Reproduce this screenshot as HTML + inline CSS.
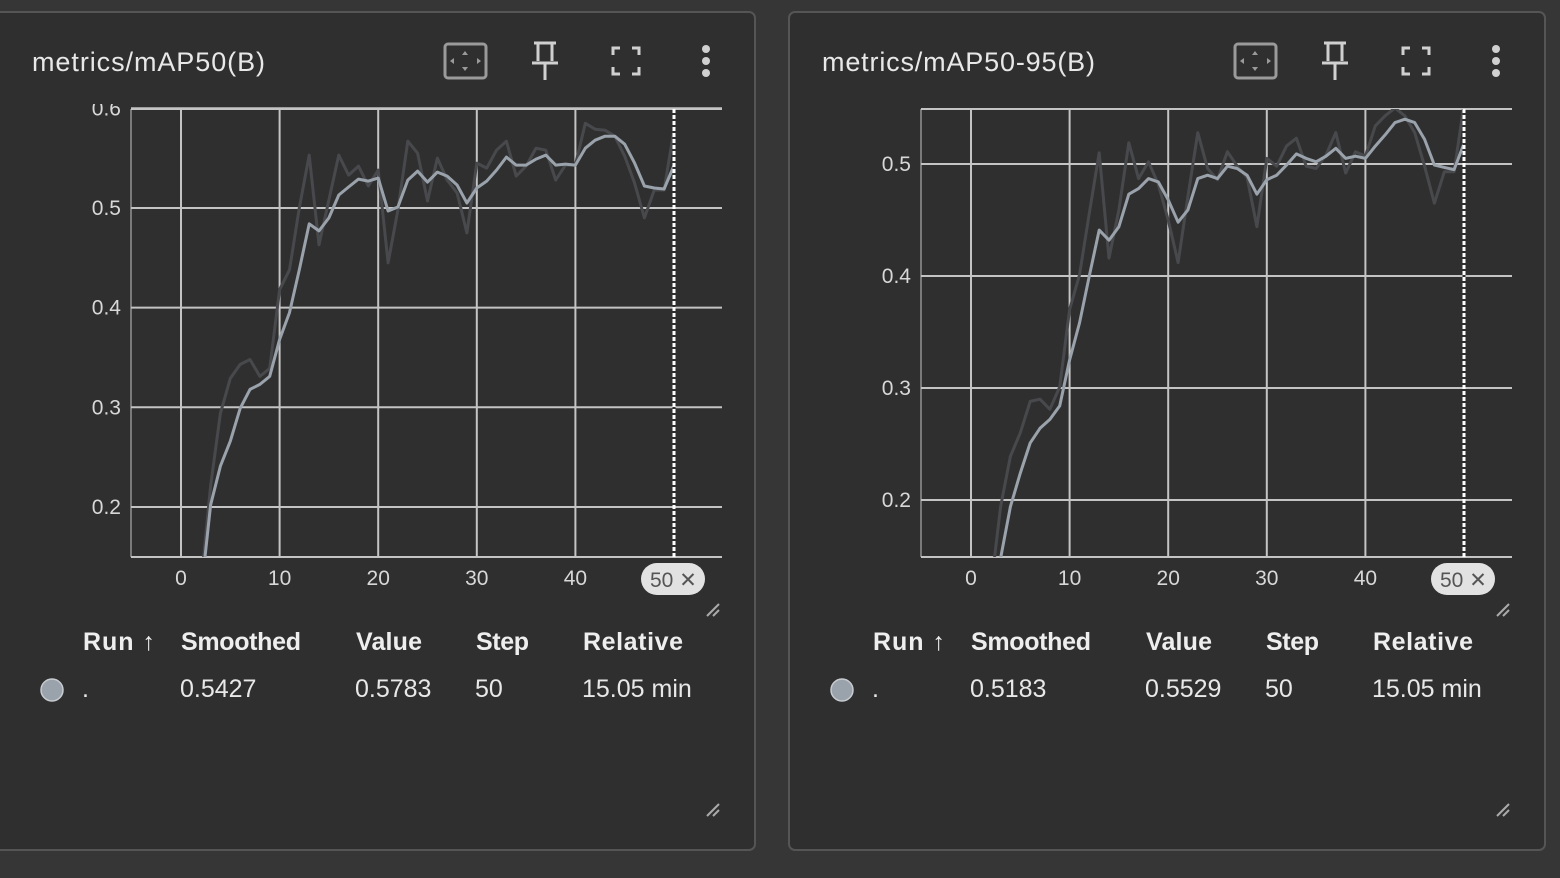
<!DOCTYPE html>
<html><head><meta charset="utf-8"><style>
html,body{margin:0;padding:0;background:#363636;width:1560px;height:878px;overflow:hidden;font-family:"Liberation Sans",sans-serif;}
svg{position:absolute;left:0;top:0}
</style></head><body>
<svg id="root" width="1560" height="878" xmlns="http://www.w3.org/2000/svg">
<g id="panel1">
<rect x="-6" y="12" width="761" height="838" rx="6" fill="#2f2f2f" stroke="#555" stroke-width="2"/>
<text x="32" y="71" font-size="27" fill="#e8e8e8" textLength="233">metrics/mAP50(B)</text>
</g>
<g id="panel2">
<rect x="789" y="12" width="756" height="838" rx="6" fill="#2f2f2f" stroke="#555" stroke-width="2"/>
<text x="822" y="71" font-size="27" fill="#e8e8e8" textLength="273">metrics/mAP50-95(B)</text>
</g>
</svg>
<script>
// Chart 1: metrics/mAP50(B)
const steps = [0,1,2,3,4,5,6,7,8,9,10,11,12,13,14,15,16,17,18,19,20,21,22,23,24,25,26,27,28,29,30,31,32,33,34,35,36,37,38,39,40,41,42,43,44,45,46,47,48,49,50];
const map50Raw = [0.02,0.06,0.12,0.221,0.294,0.329,0.343,0.348,0.331,0.339,0.418,0.438,0.50,0.553,0.463,0.508,0.553,0.533,0.542,0.522,0.538,0.445,0.498,0.567,0.555,0.507,0.550,0.528,0.515,0.475,0.545,0.540,0.558,0.567,0.532,0.542,0.560,0.558,0.528,0.543,0.543,0.585,0.579,0.578,0.572,0.552,0.525,0.490,0.518,0.518,0.5783];
const map50Smooth = [0.01,0.03,0.11,0.202,0.241,0.266,0.299,0.318,0.323,0.331,0.368,0.395,0.438,0.484,0.477,0.490,0.513,0.521,0.529,0.527,0.530,0.497,0.501,0.528,0.537,0.526,0.536,0.532,0.523,0.505,0.520,0.527,0.538,0.551,0.543,0.543,0.549,0.553,0.543,0.544,0.543,0.560,0.568,0.572,0.572,0.564,0.545,0.522,0.520,0.519,0.5427];
const map50YTicks = [0.2,0.3,0.4,0.5,0.6];
// Chart 2: metrics/mAP50-95(B)
const map5095Raw = [0.02,0.06,0.12,0.194,0.239,0.260,0.288,0.290,0.281,0.301,0.370,0.401,0.456,0.510,0.416,0.459,0.519,0.487,0.502,0.482,0.450,0.412,0.471,0.528,0.496,0.486,0.511,0.498,0.488,0.444,0.505,0.498,0.516,0.523,0.498,0.496,0.508,0.528,0.492,0.511,0.507,0.534,0.543,0.550,0.543,0.528,0.498,0.465,0.493,0.493,0.5529];
const map5095Smooth = [0.01,0.03,0.09,0.148,0.194,0.224,0.251,0.264,0.272,0.284,0.325,0.358,0.400,0.441,0.432,0.444,0.473,0.478,0.487,0.484,0.468,0.448,0.459,0.487,0.490,0.487,0.498,0.496,0.490,0.473,0.486,0.490,0.499,0.509,0.505,0.502,0.507,0.514,0.505,0.507,0.505,0.516,0.526,0.537,0.540,0.537,0.522,0.499,0.497,0.495,0.5183];
const map5095YTicks = [0.2,0.3,0.4,0.5];
const xTicks = [0,10,20,30,40];
const rowValues1 = ['.', '0.5427', '0.5783', '50', '15.05 min'];
const rowValues2 = ['.', '0.5183', '0.5529', '50', '15.05 min'];

const NS='http://www.w3.org/2000/svg';
function mk(tag, attrs, parent){const e=document.createElementNS(NS,tag);for(const k in attrs)e.setAttribute(k,attrs[k]);parent.appendChild(e);return e;}

function drawPanel(g, ox, raw, smooth, yTicks, yMin, yMax, rowVals, id){
  const L=ox+131, R=ox+722, T=109, B=557;
  const xs=s=>ox+181+9.86*s;
  const ys=v=>B-(v-yMin)/(yMax-yMin)*(B-T);
  const ic=mk('g',{},g);
  
  
  mk('rect',{x:ox+445,y:44,width:41,height:34,rx:3,fill:'none',stroke:'#9a9a9a','stroke-width':3},ic);
  mk('path',{d:`M${ox+465} 51 l-3 4 h6z M${ox+465} 71 l-3 -4 h6z M${ox+450} 61 l4 -3 v6z M${ox+481} 61 l-4 -3 v6z`,fill:'#9a9a9a'},ic);
  const pin=mk('path',{d:`M${ox+534} 43 h22 M${ox+538} 43 v18 M${ox+552} 43 v18 M${ox+532} 63 h26 M${ox+545} 63 v17`,stroke:'#d0d0d0','stroke-width':3,fill:'none'},g);
  
  
  const fs=mk('path',{d:`M${ox+613} 55 v-7 h7 M${ox+632} 48 h7 v7 M${ox+639} 67 v7 h-7 M${ox+620} 74 h-7 v-7`,stroke:'#d0d0d0','stroke-width':3,fill:'none'},g);
  
  
  const more=mk('g',{fill:'#d0d0d0'},g);
  
  
  [49,61,73].forEach(y=>mk('circle',{cx:ox+706,cy:y,r:4},more));
  const cp=mk('clipPath',{id:'c'+id},g);
  mk('rect',{x:L,y:T,width:R-L,height:B-T},cp);
  const lp=mk('clipPath',{id:'l'+id},g);
  mk('rect',{x:ox,y:104,width:130,height:480},lp);
  const grid=mk('g',{stroke:'#c4c4c4','stroke-width':2},g);
  
  
  yTicks.forEach(v=>{const y=ys(v);if(y<T-1)return;mk('line',{x1:L,x2:R,y1:y,y2:y},grid);});
  mk('line',{x1:L,x2:R,y1:T,y2:T},grid);
  xTicks.forEach(s=>{const x=xs(s);mk('line',{x1:x,x2:x,y1:T,y2:B},grid);});
  mk('line',{x1:L,x2:L,y1:T,y2:B,stroke:'#c4c4c4'},g);
  mk('line',{x1:L,x2:R,y1:B,y2:B,stroke:'#c4c4c4','stroke-width':2},g);
  const yl=mk('g',{'clip-path':`url(#l${id})`},g);
  yTicks.forEach(v=>{const y=ys(v);if(y<T-15)return;const t=mk('text',{x:ox+121,y:y+7,'font-size':21,fill:'#d8d8d8','text-anchor':'end'},yl);t.textContent=v.toFixed(1);
    
    });
  xTicks.forEach(s=>{const t=mk('text',{x:xs(s),y:585,'font-size':21,fill:'#d8d8d8','text-anchor':'middle'},g);t.textContent=s;
    
    });
  const pts=a=>a.map((v,i)=>xs(steps[i]).toFixed(1)+','+ys(v).toFixed(1)).join(' ');
  const rl=mk('polyline',{points:pts(raw),fill:'none',stroke:'#48494c','stroke-width':3,'stroke-linejoin':'round','clip-path':`url(#c${id})`},g);
  
  
  const sl=mk('polyline',{points:pts(smooth),fill:'none',stroke:'#9aa2ab','stroke-width':3,'stroke-linejoin':'round','clip-path':`url(#c${id})`},g);
  
  
  const xc=xs(50);
  mk('line',{x1:xc,x2:xc,y1:T,y2:B,stroke:'#2f2f2f','stroke-width':3},g);
  const cl=mk('line',{x1:xc,x2:xc,y1:T,y2:B,stroke:'#fff','stroke-width':3,'stroke-dasharray':'4 2'},g);
  
  
  const pill=mk('g',{},g);
  
  
  mk('rect',{x:ox+641,y:563,width:64,height:32,rx:16,fill:'#e2e2e2'},pill);
  const pt=mk('text',{x:ox+650,y:587,'font-size':21,fill:'#555'},pill);pt.textContent='50 ✕';
  [610,810].forEach(y=>{const h=mk('path',{d:`M${ox+707} ${y+6} l12 -12 M${ox+713} ${y+6} l6 -6`,stroke:'#aaa','stroke-width':2},g);
    
    });
  const hdr=[['Run ↑',83,72],['Smoothed',181,120],['Value',356,66],['Step',476,53],['Relative',583,100]];
  hdr.forEach(([t,x,w])=>{const e=mk('text',{x:ox+x,y:650,'font-size':25,'font-weight':'bold',fill:'#eee',textLength:w},g);e.textContent=t;
    
    });
  const dot=mk('circle',{cx:ox+52,cy:690,r:11,fill:'#9aa2ab',stroke:'#c8ccd0','stroke-width':1.5},g);
  
  
  const cx=[82,180,355,475,582];
  rowVals.forEach((t,i)=>{const e=mk('text',{x:ox+cx[i],y:697,'font-size':25,fill:'#e8e8e8'},g);e.textContent=t;
    
    });
}
drawPanel(document.getElementById('panel1'),0,map50Raw,map50Smooth,map50YTicks,0.1498,0.5993,rowValues1,1);
drawPanel(document.getElementById('panel2'),790,map5095Raw,map5095Smooth,map5095YTicks,0.1491,0.5491,rowValues2,2);
</script>
</body></html>
